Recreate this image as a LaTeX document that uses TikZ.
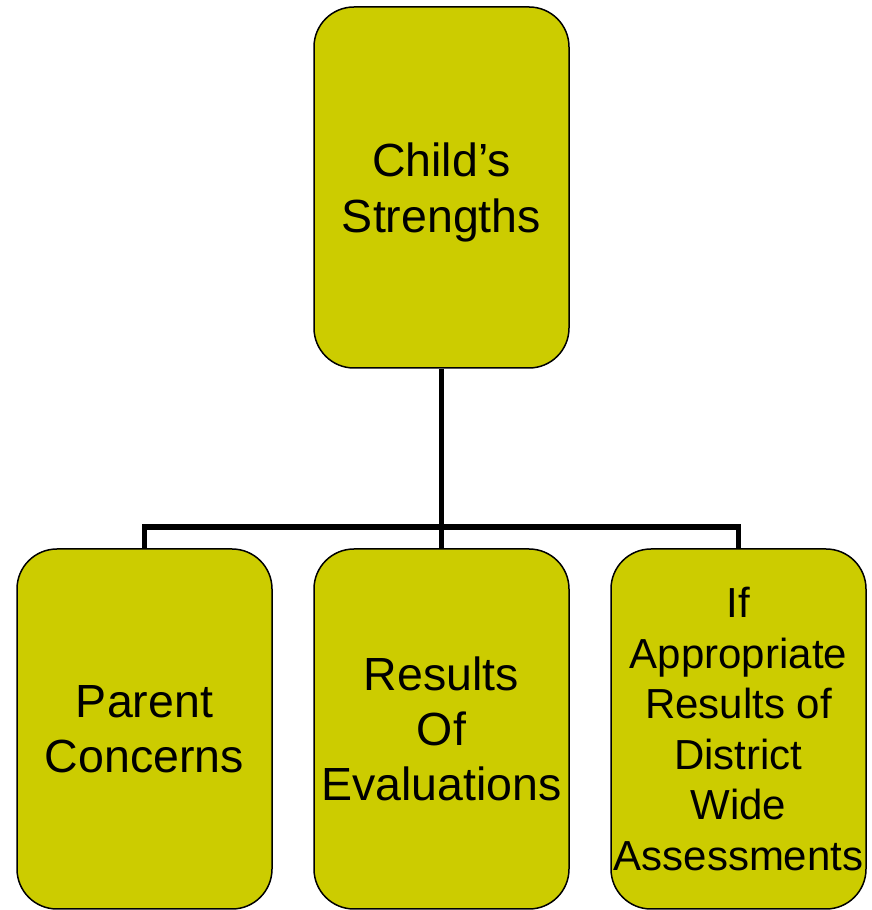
\documentclass[tikz,border=0pt]{standalone}
\usepackage{fontspec}
\setmainfont{Liberation Sans}
\definecolor{boxfill}{HTML}{CCCC00}
\begin{document}
\begin{tikzpicture}[x=1pt,y=1pt,
  boxnode/.style={draw=black, line width=1.5pt, fill=boxfill, rounded corners=40pt,
    minimum width=255pt, minimum height=360pt, inner sep=0pt, align=center,
    font=\fontsize{46.5}{55}\selectfont},
  conn/.style={draw=black, line width=5.5pt, line join=miter}]
\useasboundingbox (0,0) rectangle (872,910);
\coordinate (topc) at (441.5,722.5);
\coordinate (leftc) at (144.5,181);
\coordinate (midc) at (441.5,181);
\coordinate (rightc) at (738.5,181);
\node[boxnode, minimum height=361pt, text depth=0pt, font=\fontsize{46.5}{56}\selectfont] (top) at (topc) {Child’s\\Strengths};
\node[boxnode] (left) at (leftc) {Parent\\Concerns};
\node[boxnode] (mid) at (midc) {Results\\Of\\Evaluations};
\node[boxnode, font=\fontsize{42}{50.5}\selectfont] (right) at (rightc) {If\\Appropriate\\Results of\\District\\Wide\\Assessments};
\coordinate (j) at (441.5,383);
\draw[conn] (top.south) -- (mid.north);
\draw[conn] (left.north) |- (j) -| (right.north);
\end{tikzpicture}
\end{document}
